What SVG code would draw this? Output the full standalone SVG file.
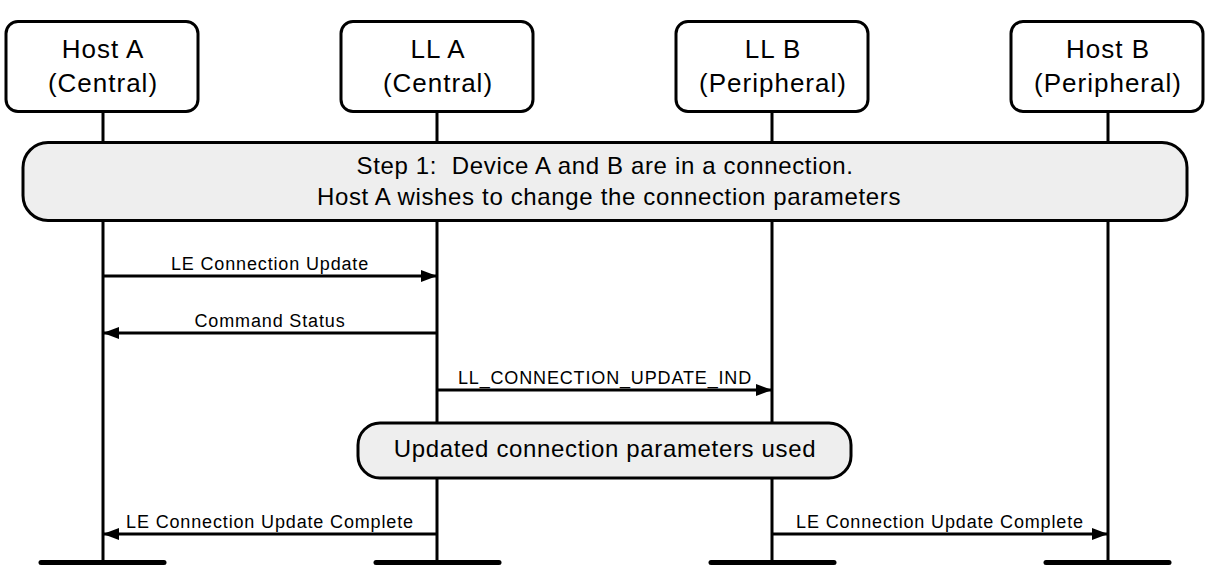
<svg xmlns="http://www.w3.org/2000/svg" width="1208" height="583" viewBox="0 0 1208 583">
<style>
.box{fill:#fff;stroke:#000;stroke-width:3}
.note{fill:#eeeeee;stroke:#000;stroke-width:3}
.life{stroke:#000;stroke-width:3}
.bar{stroke:#000;stroke-width:5;stroke-linecap:round}
.msg{stroke:#000;stroke-width:3;fill:none}
.t{font-family:"Liberation Sans",Arial,sans-serif;fill:#000;text-anchor:middle}
.h{font-size:26px;letter-spacing:1px}
.n{font-size:24px;letter-spacing:0.65px}
.m{font-size:18px;letter-spacing:0.85px}
</style>
<defs>
<marker id="ah" viewBox="0 0 16 12" refX="16" refY="6" markerWidth="16" markerHeight="12" markerUnits="userSpaceOnUse" orient="auto">
<path d="M0,0 L16,6 L0,12 Z" fill="#000"/>
</marker>
</defs>
<g id="lifelines">
<line class="life" x1="103" y1="111" x2="103" y2="562"/>
<line class="life" x1="437" y1="111" x2="437" y2="562"/>
<line class="life" x1="772" y1="111" x2="772" y2="562"/>
<line class="life" x1="1108" y1="111" x2="1108" y2="562"/>
<line class="bar" x1="41" y1="562.5" x2="164" y2="562.5"/>
<line class="bar" x1="376" y1="562.5" x2="499" y2="562.5"/>
<line class="bar" x1="711" y1="562.5" x2="834" y2="562.5"/>
<line class="bar" x1="1046" y1="562.5" x2="1169" y2="562.5"/>
</g>
<g id="hostA">
<rect class="box" x="6" y="21.5" width="192" height="90" rx="12"/>
<text class="t h" x="103" y="58">Host A</text>
<text class="t h" x="103" y="92">(Central)</text>
</g>
<g id="llA">
<rect class="box" x="341" y="21.5" width="192" height="90" rx="12"/>
<text class="t h" x="438" y="58">LL A</text>
<text class="t h" x="438" y="92">(Central)</text>
</g>
<g id="llB">
<rect class="box" x="676" y="21.5" width="192" height="90" rx="12"/>
<text class="t h" x="773" y="58">LL B</text>
<text class="t h" x="773" y="92">(Peripheral)</text>
</g>
<g id="hostB">
<rect class="box" x="1011" y="21.5" width="192" height="90" rx="12"/>
<text class="t h" x="1108" y="58">Host B</text>
<text class="t h" x="1108" y="92">(Peripheral)</text>
</g>
<g id="step1">
<rect class="note" x="23" y="142.5" width="1164" height="78" rx="25"/>
<text class="t n" x="605" y="174" xml:space="preserve">Step 1:  Device A and B are in a connection.</text>
<text class="t n" x="609" y="205">Host A wishes to change the connection parameters</text>
</g>
<g id="updated">
<rect class="note" x="358" y="423" width="493" height="55" rx="22"/>
<text class="t n" x="605" y="457">Updated connection parameters used</text>
</g>
<g id="connectors">
<line class="msg" x1="103" y1="276" x2="437" y2="276" marker-end="url(#ah)"/>
<text class="t m" x="270" y="270">LE Connection Update</text>
<line class="msg" x1="437" y1="333" x2="103" y2="333" marker-end="url(#ah)"/>
<text class="t m" x="270" y="327">Command Status</text>
<line class="msg" x1="437" y1="390" x2="772" y2="390" marker-end="url(#ah)"/>
<text class="t m" x="605" y="384">LL_CONNECTION_UPDATE_IND</text>
<line class="msg" x1="437" y1="534" x2="103" y2="534" marker-end="url(#ah)"/>
<text class="t m" x="270" y="528">LE Connection Update Complete</text>
<line class="msg" x1="772" y1="534" x2="1108" y2="534" marker-end="url(#ah)"/>
<text class="t m" x="940" y="528">LE Connection Update Complete</text>
</g>
</svg>
